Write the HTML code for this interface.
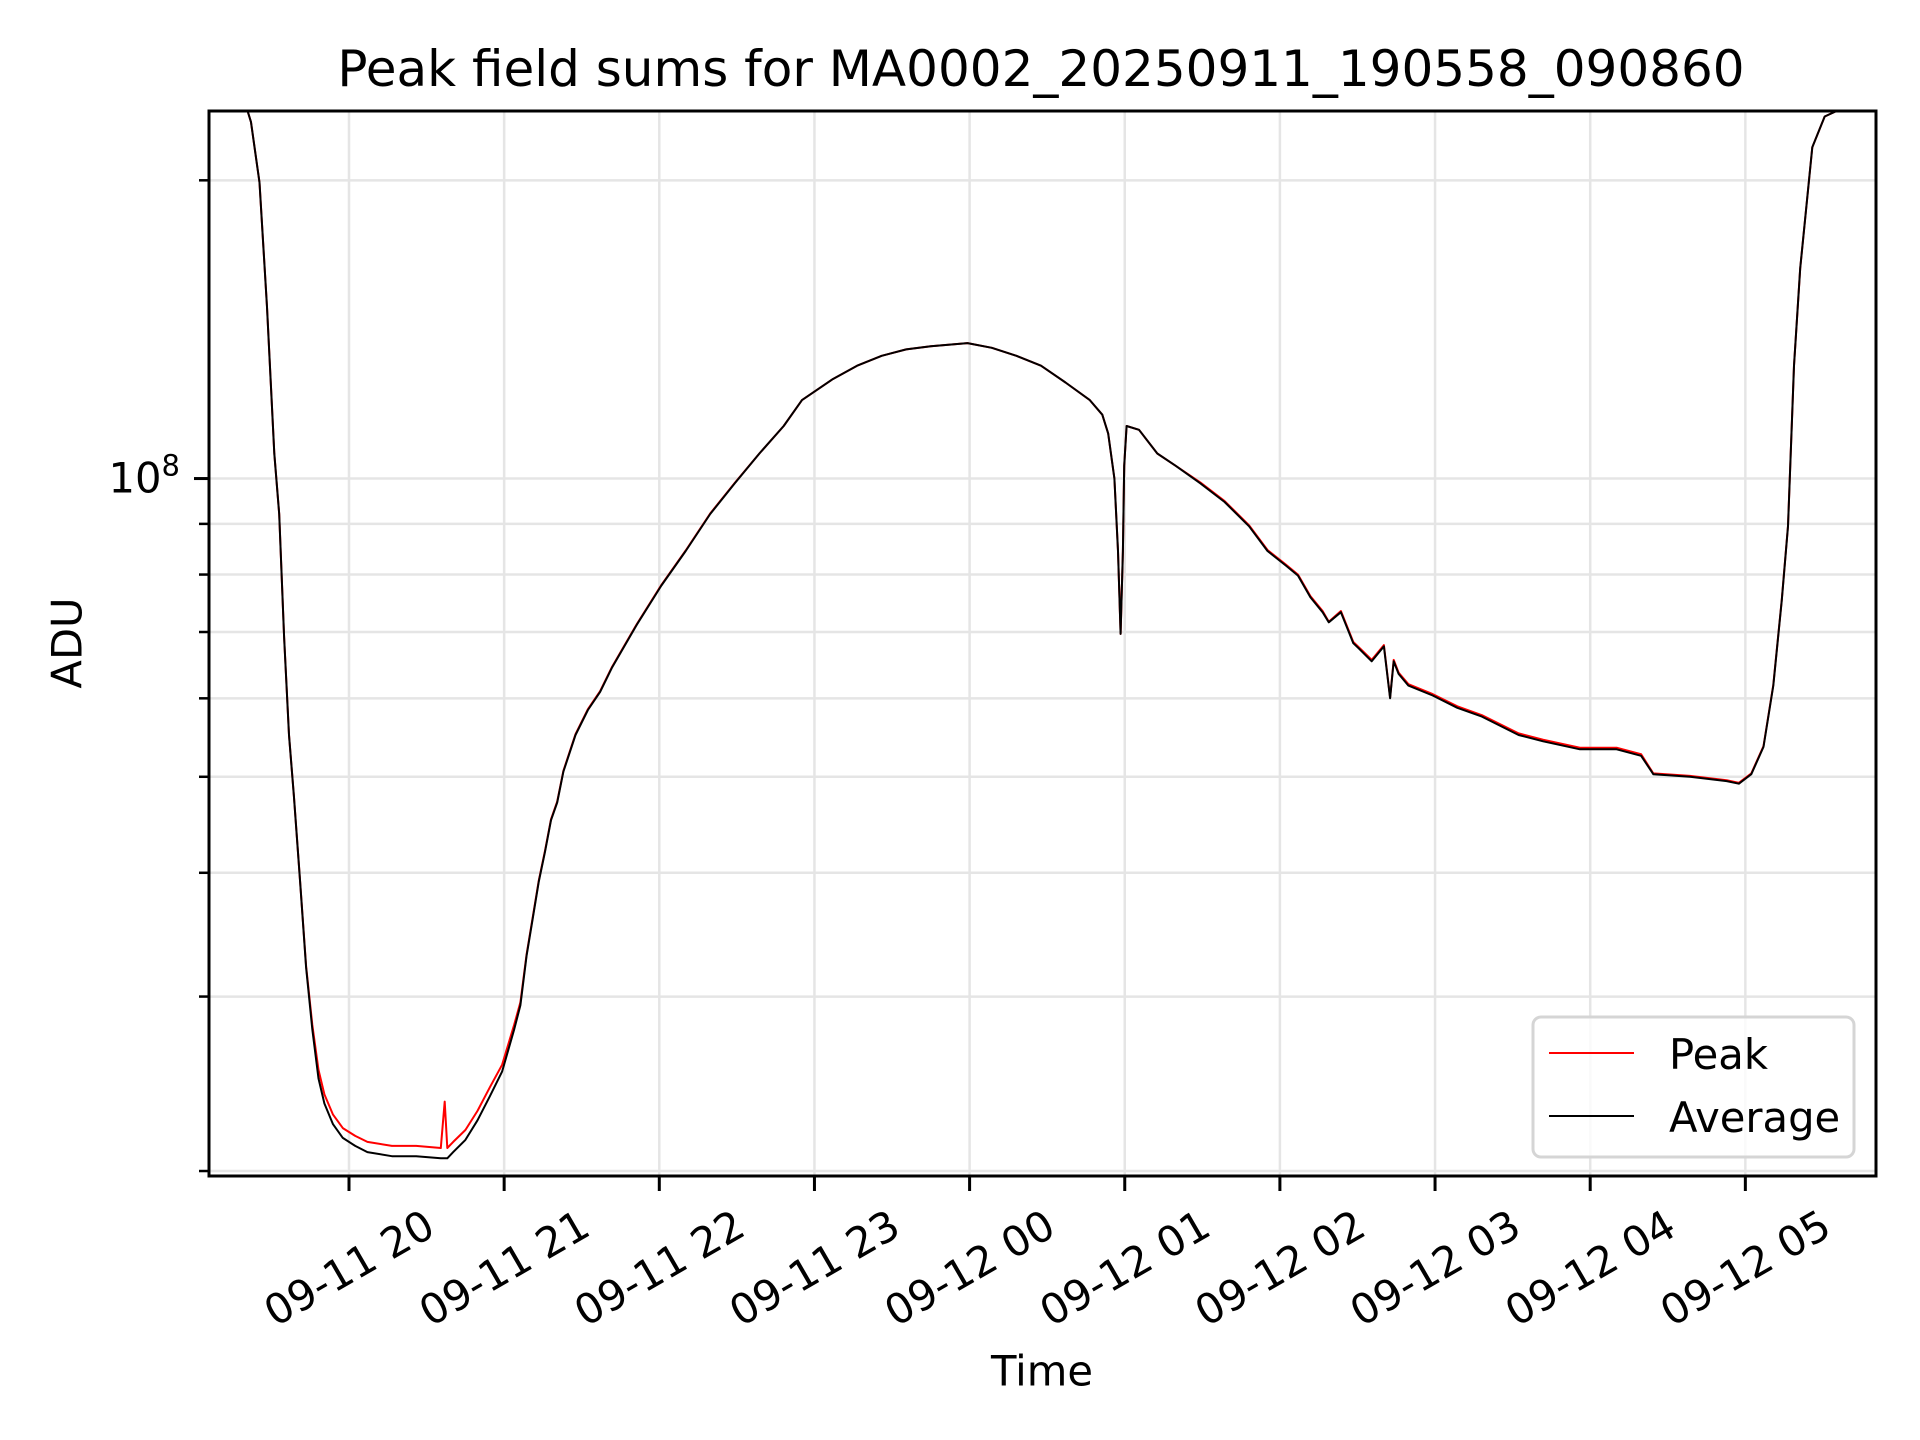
<!DOCTYPE html>
<html><head><meta charset="utf-8"><style>
html,body{margin:0;padding:0;background:#fff;}
svg{display:block;font-family:"DejaVu Sans","Liberation Sans",sans-serif;}
</style></head><body>
<svg id="chart" width="1920" height="1440" viewBox="0 0 1920 1440" xmlns="http://www.w3.org/2000/svg">
<defs><clipPath id="pc"><rect x="209" y="111" width="1667" height="1065"/></clipPath></defs>
<rect width="1920" height="1440" fill="#fff"/>
<text x="1041" y="86" font-size="50" text-anchor="middle">Peak field sums for MA0002_20250911_190558_090860</text>
<g id="grid"></g>
<g id="series" clip-path="url(#pc)"></g>
<rect x="209" y="111" width="1667" height="1065" fill="none" stroke="#000" stroke-width="3"/>
<g id="ticks"></g>
<text x="67" y="643" font-size="41.7" text-anchor="middle" dominant-baseline="central" transform="rotate(-90 67 643)">ADU</text>
<text x="1042" y="1371" font-size="41.7" text-anchor="middle" dominant-baseline="central">Time</text>
<g>
<rect x="1533" y="1017" width="321" height="140" rx="8" fill="#fff" fill-opacity="0.8" stroke="#d5d5d5" stroke-width="3"/>
<line x1="1549" y1="1053" x2="1634" y2="1053" stroke="#ff0000" stroke-width="2"/>
<text x="1669" y="1069" font-size="41.7">Peak</text>
<line x1="1549" y1="1116" x2="1634" y2="1116" stroke="#000" stroke-width="2"/>
<text x="1669" y="1132" font-size="41.7">Average</text>
</g>
</svg>
<script>
// minutes since 09-11 19:00
const times = [6,19.7,22.1,25.4,28.3,31.1,33.0,34.9,36.8,38.7,41.1,43.4,45.8,48.2,50.5,53.8,57.6,62.4,67.1,76.6,86.0,95.5,97.0,98.0,100.3,105.0,109.7,114.5,119.2,123.9,126.3,128.7,131.0,133.4,135.8,138.1,140.5,142.9,147.6,152.4,157.1,161.8,171.3,180.8,190.2,199.7,209.2,218.7,228.1,235.2,247.1,256.5,266.0,275.5,285.0,299.2,308.6,318.1,327.6,337.1,346.5,351.3,353.6,356.0,357.4,358.4,359.3,359.8,360.7,365.5,372.6,379.7,389.2,398.6,408.1,415.2,422.3,427.0,431.8,436.5,438.9,443.6,448.4,450.7,455.5,460.2,462.6,464.0,465.9,469.7,479.1,488.6,498.1,512.3,521.8,536.0,550.2,559.7,564.4,578.6,592.8,597.5,602.3,607.0,610.8,614.1,616.5,618.8,621.2,625.9,630.7,635.4,650.1];
// values in millions of ADU
const averageValues = [240,240,229,199,149,106,92.1,69.2,55.1,47.8,39.2,32.1,27.8,24.8,23.4,22.3,21.6,21.2,20.9,20.7,20.7,20.6,20.6,20.6,20.9,21.5,22.5,23.8,25.2,27.8,29.4,33.0,35.9,39.2,42.0,45.2,47.1,50.6,55.1,58.4,60.9,64.5,71.2,78.0,84.5,92.1,98.9,106,113,120,126,130,133,135,136,137,135.5,133,130,125,120,116,111,100,84.5,69.7,84.5,103,113,112,106,103,98.9,94.7,89.5,84.5,81.7,79.8,75.9,73.3,71.6,73.3,68.2,67.3,65.4,67.7,60.0,65.4,63.5,61.8,60.4,58.7,57.5,55.1,54.3,53.3,53.3,52.5,50.3,50.0,49.5,49.2,50.3,53.6,61.8,75.4,89.5,130,163,216,232,235,240];
const peakValues = [240,240,229,199,149,106,92.1,69.2,55.1,47.8,39.2,32.2,28.1,25.3,23.9,22.8,22.1,21.7,21.4,21.2,21.2,21.1,23.5,21.1,21.4,22.0,23.0,24.3,25.6,28.1,29.6,33.1,36.0,39.3,42.1,45.3,47.2,50.7,55.2,58.5,61.0,64.6,71.3,78.1,84.6,92.2,99.0,106,113,120,126,130,133,135,136,137,135.5,133,130,125,120,116,111,100,84.5,69.7,84.5,103,113,112,106,103,99.1,94.9,89.7,84.7,81.9,80.0,76.1,73.5,71.7,73.5,68.4,67.5,65.6,67.9,60.1,65.6,63.7,62.0,60.6,58.9,57.7,55.3,54.5,53.5,53.5,52.7,50.4,50.1,49.6,49.3,50.4,53.7,61.9,75.5,89.6,130,163,216,232,235,240];
const xTickLabels = ["09-11 20","09-11 21","09-11 22","09-11 23","09-12 00","09-12 01","09-12 02","09-12 03","09-12 04","09-12 05"];
const xTickMinutes = [60,120,180,240,300,360,420,480,540,600];
const yMinorValues = [20,30,40,50,60,70,80,90,200];
const yMajorValues = [100];

const NS="http://www.w3.org/2000/svg";
const L=209,R=1876,T=111,B=1176;
const xs=m=>349+(m-60)*155.15/60;
const logMin=7.296-6, logMax=8.371-6; // in millions
const ys=v=>B-(Math.log10(v)-logMin)/(logMax-logMin)*(B-T);
function mk(tag,attrs,parent){const e=document.createElementNS(NS,tag);for(const k in attrs)e.setAttribute(k,attrs[k]);parent.appendChild(e);return e;}
const grid=document.getElementById('grid'),ticks=document.getElementById('ticks'),series=document.getElementById('series');
xTickMinutes.forEach((m,i)=>{
  const x=xs(m);
  const g=mk('line',{x1:x,y1:T,x2:x,y2:B,stroke:'#e5e5e5','stroke-width':2.5},grid);
  
  
  const t=mk('line',{x1:x,y1:B,x2:x,y2:B+15,stroke:'#000','stroke-width':3},ticks);
  
  
  const lb=mk('text',{x:x,y:1268,'font-size':41.7,'text-anchor':'middle','dominant-baseline':'central',transform:`rotate(-30 ${x} 1268)`},ticks);
  lb.textContent=xTickLabels[i];
  
  
});
yMinorValues.concat(yMajorValues).forEach(v=>{
  const y=ys(v);
  const g=mk('line',{x1:L,y1:y,x2:R,y2:y,stroke:'#e5e5e5','stroke-width':2.5},grid);
  
  
  const major=yMajorValues.includes(v);
  const t=mk('line',{x1:L-(major?15:10),y1:y,x2:L,y2:y,stroke:'#000','stroke-width':major?3:2.5},ticks);
  
  
});
yMajorValues.forEach(v=>{
  const y=ys(v);
  const lb=mk('text',{x:180,y:y+14,'font-size':41.7,'text-anchor':'end'},ticks);
  lb.innerHTML='10<tspan font-size="29" dy="-17">8</tspan>';
  
  
});
function path(vals,color,name){
  const d=times.map((m,i)=>(i?'L':'M')+xs(m).toFixed(1)+' '+ys(vals[i]).toFixed(1)).join(' ');
  const p=mk('path',{d:d,fill:'none',stroke:color,'stroke-width':2,'stroke-linejoin':'round'},series);
  
  
}
path(peakValues,'#ff0000','peak-line');
path(averageValues,'#000000','average-line');
</script>
</body></html>
